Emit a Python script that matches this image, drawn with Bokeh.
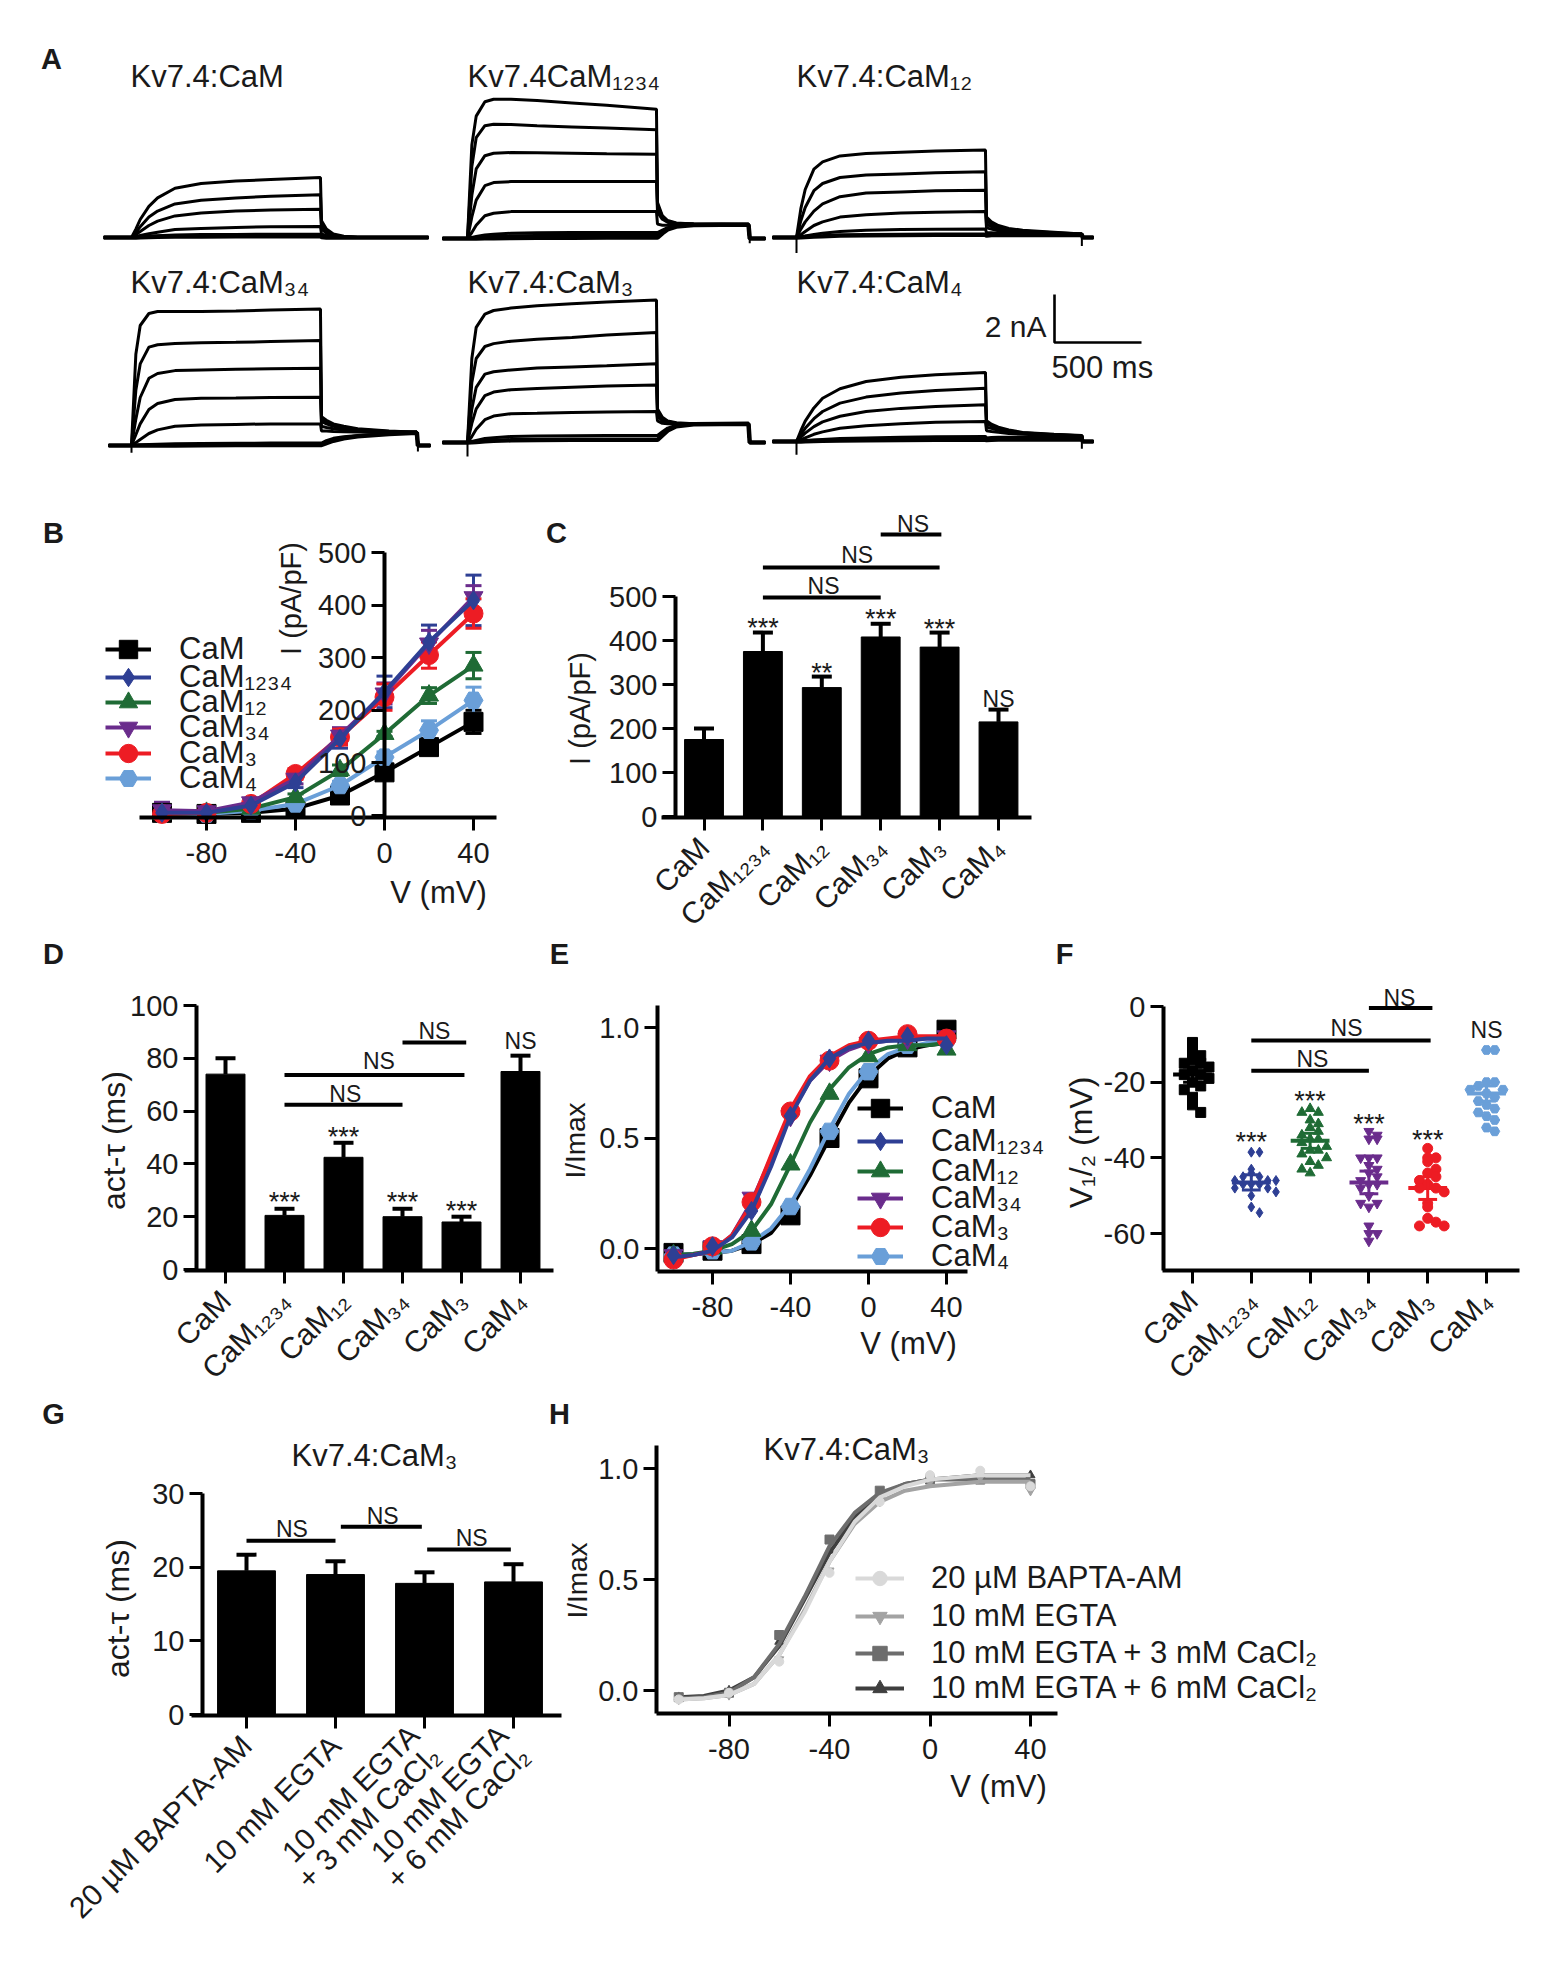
from bokeh.embed import file_html
from bokeh.layouts import column, row
from bokeh.models import FixedTicker, Label, Legend, LegendItem, Range1d
from bokeh.plotting import figure
from bokeh.resources import INLINE

FONT = "Liberation Sans"

# panel A, current traces (ms, nA)
cam_t = [-160, 0, 25, 50, 100, 150, 250, 400, 600, 800, 1086, 1092, 1120, 1160, 1220, 1300, 1707]
cam_i = [
    [0, 0, .35, .75, 1.3, 1.65, 2.05, 2.25, 2.35, 2.42, 2.5, .7, .35, .15, .05, 0, 0],
    [0, 0, .2, .45, .85, 1.1, 1.4, 1.55, 1.65, 1.72, 1.78, .5, .25, .1, .03, 0, 0],
    [0, 0, .12, .25, .5, .68, .9, 1.02, 1.1, 1.15, 1.18, .35, .18, .07, .02, 0, 0],
    [0, 0, .04, .08, .16, .22, .33, .38, .42, .45, .46, .15, .08, .03, 0, 0, 0],
    [0, 0, .01, .02, .05, .07, .1, .12, .13, .14, .14, .05, .02, 0, 0, 0, 0],
    [0, 0, 0, .01, .02, .03, .04, .04, .05, .05, .05, .02, 0, 0, 0, 0, 0],
]
cam1234_t = [-144, 0, 25, 50, 100, 150, 250, 400, 600, 800, 1086, 1092, 1120, 1150, 1200, 1300, 1615, 1622, 1712]
cam1234_i = [
    [0, 0, 3.9, 5.1, 5.7, 5.8, 5.8, 5.75, 5.65, 5.55, 5.39, 1.5, .95, .75, .65, .6, .58, 0, 0],
    [0, 0, 3.0, 4.2, 4.7, 4.76, 4.75, 4.7, 4.65, 4.6, 4.53, 1.4, .9, .72, .63, .6, .58, 0, 0],
    [0, 0, 1.8, 2.9, 3.45, 3.55, 3.58, 3.57, 3.55, 3.53, 3.51, 1.3, .85, .7, .62, .6, .58, 0, 0],
    [0, 0, .9, 1.6, 2.2, 2.33, 2.37, 2.37, 2.37, 2.37, 2.37, 1.1, .8, .68, .6, .58, .58, 0, 0],
    [0, 0, .25, .55, .95, 1.05, 1.12, 1.12, 1.12, 1.12, 1.12, .6, .55, .55, .56, .58, .58, 0, 0],
    [0, 0, .04, .08, .15, .18, .22, .24, .25, .25, .25, .25, .35, .45, .53, .57, .58, 0, 0],
    [0, 0, .01, .03, .06, .08, .11, .13, .14, .14, .14, .14, .3, .42, .52, .57, .58, 0, 0],
    [0, 0, 0, 0, .01, .01, .02, .03, .03, .04, .04, .04, .22, .38, .5, .56, .58, 0, 0],
]
cam12_t = [-138, 0, 25, 50, 100, 150, 250, 400, 600, 800, 1086, 1092, 1120, 1160, 1220, 1300, 1480, 1640, 1646, 1707]
cam12_i = [
    [0, 0, 1.2, 2.0, 2.85, 3.15, 3.4, 3.5, 3.55, 3.6, 3.65, .85, .65, .5, .38, .3, .22, .15, 0, 0],
    [0, 0, .7, 1.25, 1.95, 2.25, 2.5, 2.6, 2.65, 2.7, 2.74, .7, .55, .42, .33, .27, .2, .15, 0, 0],
    [0, 0, .35, .65, 1.1, 1.4, 1.7, 1.85, 1.9, 1.95, 1.97, .55, .45, .35, .28, .24, .18, .15, 0, 0],
    [0, 0, .12, .25, .5, .65, .85, .95, 1.02, 1.05, 1.08, .4, .35, .28, .24, .2, .16, .14, 0, 0],
    [0, 0, .03, .06, .13, .18, .25, .3, .33, .34, .35, .2, .2, .18, .16, .15, .13, .12, 0, 0],
    [0, 0, .01, .02, .04, .05, .08, .09, .1, .11, .11, .08, .1, .1, .1, .1, .1, .1, 0, 0],
]
cam34_t = [-132, 0, 25, 50, 100, 150, 250, 400, 600, 800, 1086, 1092, 1120, 1160, 1220, 1300, 1480, 1640, 1646, 1718]
cam34_i = [
    [0, 0, 3.8, 5.0, 5.5, 5.58, 5.58, 5.58, 5.6, 5.65, 5.69, 1.2, 1.05, .9, .8, .7, .6, .55, 0, 0],
    [0, 0, 2.3, 3.4, 4.1, 4.2, 4.25, 4.28, 4.3, 4.33, 4.37, 1.1, .95, .85, .75, .67, .58, .55, 0, 0],
    [0, 0, 1.1, 2.0, 2.8, 3.0, 3.12, 3.15, 3.18, 3.2, 3.22, 1.0, .9, .8, .72, .65, .57, .55, 0, 0],
    [0, 0, .45, .9, 1.5, 1.75, 1.92, 1.97, 1.98, 2.0, 2.01, .8, .75, .7, .65, .6, .56, .55, 0, 0],
    [0, 0, .12, .25, .5, .65, .8, .85, .88, .9, .9, .6, .6, .58, .57, .56, .55, .55, 0, 0],
    [0, 0, .01, .02, .04, .05, .07, .08, .09, .1, .1, .1, .2, .3, .37, .42, .5, .55, 0, 0],
    [0, 0, 0, 0, 0, 0, 0, .01, .02, .02, .02, .02, .1, .2, .3, .38, .48, .53, 0, 0],
]
cam3_t = [-144, 0, 25, 50, 100, 150, 250, 400, 600, 800, 1086, 1092, 1120, 1150, 1200, 1300, 1615, 1622, 1712]
cam3_i = [
    [0, 0, 3.5, 4.8, 5.35, 5.5, 5.6, 5.7, 5.78, 5.85, 5.94, 1.4, 1.05, .9, .82, .78, .78, 0, 0],
    [0, 0, 2.5, 3.5, 4.0, 4.12, 4.22, 4.3, 4.38, 4.48, 4.58, 1.3, 1.0, .88, .8, .78, .78, 0, 0],
    [0, 0, 1.4, 2.3, 2.85, 2.95, 3.02, 3.1, 3.15, 3.2, 3.28, 1.2, .95, .85, .8, .78, .78, 0, 0],
    [0, 0, .8, 1.4, 1.95, 2.1, 2.2, 2.25, 2.3, 2.35, 2.4, 1.1, .9, .82, .78, .78, .78, 0, 0],
    [0, 0, .25, .55, .95, 1.1, 1.2, 1.22, 1.25, 1.27, 1.29, .9, .8, .78, .77, .78, .78, 0, 0],
    [0, 0, .04, .09, .17, .2, .25, .27, .28, .29, .29, .29, .45, .6, .72, .77, .78, 0, 0],
    [0, 0, .01, .02, .05, .07, .09, .1, .11, .11, .11, .11, .3, .5, .68, .76, .78, 0, 0],
]
cam4_t = [-138, 0, 25, 50, 100, 150, 250, 400, 600, 800, 1086, 1092, 1120, 1160, 1220, 1300, 1480, 1640, 1646, 1707]
cam4_i = [
    [0, 0, .45, .85, 1.4, 1.8, 2.2, 2.5, 2.68, 2.78, 2.88, .87, .72, .6, .48, .38, .3, .25, 0, 0],
    [0, 0, .3, .55, .95, 1.25, 1.6, 1.85, 2.02, 2.13, 2.22, .75, .65, .55, .45, .36, .28, .24, 0, 0],
    [0, 0, .18, .35, .62, .82, 1.05, 1.25, 1.38, 1.46, 1.53, .6, .55, .47, .4, .33, .27, .24, 0, 0],
    [0, 0, .07, .15, .3, .4, .55, .66, .74, .8, .83, .45, .42, .38, .33, .3, .25, .23, 0, 0],
    [0, 0, .02, .03, .06, .08, .12, .15, .18, .2, .21, .15, .17, .18, .18, .18, .18, .17, 0, 0],
    [0, 0, 0, .01, .02, .03, .04, .05, .06, .07, .07, .06, .07, .08, .08, .08, .08, .08, 0, 0],
]
# capacitive spikes below baseline (ms, nA)
spike_1234 = ([1622], [-.2])
spike_12 = ([0, 1640], [-.65, -.35])
spike_34 = ([0, 1646], [-.3, -.25])
spike_3 = ([0], [-.58])
spike_4 = ([0, 1640], [-.55, -.3])
scale_ms = 500
scale_na = 2

# shared
cats = ["CaM", "CaM₁₂₃₄", "CaM₁₂", "CaM₃₄", "CaM₃", "CaM₄"]
colors = ["#000000", "#2e3f94", "#1f6b35", "#6a2c8c", "#ed1c24", "#6a9fd8"]
markers = ["square", "diamond", "triangle", "inverted_triangle", "circle", "hex"]
volts = [-100, -80, -60, -40, -20, 0, 20, 40]
volts_fit = [-100, -90, -80, -70, -60, -50, -40, -30, -20, -10, 0, 10, 20, 30, 40]
v_ticks = [-80, -40, 0, 40]
v_labels = ["-80", "-40", "0", "40"]

# panel B, I-V
b_vals = [
    [5, 3, 5, 13, 38, 82, 130, 178],
    [5, 5, 19, 63, 146, 235, 330, 409],
    [3, 5, 13, 35, 86, 155, 228, 285],
    [10, 8, 25, 70, 152, 232, 327, 415],
    [3, 5, 22, 79, 149, 225, 305, 384],
    [3, 3, 9, 22, 57, 111, 162, 219],
]
b_errs = [
    [8, 5, 5, 6, 8, 12, 12, 22],
    [5, 5, 6, 10, 18, 30, 32, 48],
    [3, 3, 4, 6, 10, 5, 15, 25],
    [15, 5, 6, 10, 15, 20, 25, 22],
    [3, 3, 5, 10, 15, 25, 25, 28],
    [3, 3, 3, 5, 8, 10, 18, 25],
]
b_yticks = [0, 100, 200, 300, 400, 500]

# panel C
c_vals = [175, 375, 293, 408, 385, 215]
c_tops = [200, 418, 318, 438, 418, 243]
c_yticks = [0, 100, 200, 300, 400, 500]
c_stars = [(1, 445, "***"), (2, 342, "**"), (3, 465, "***"), (4, 441, "***")]
c_ns_bars = [(1, 3, 498), (1, 4, 566), (3, 4.03, 641)]
c_ns_text = [(2.03, 524), (2.6, 594), (3.55, 664), (5, 267)]

# panel D
d_vals = [74, 20.5, 42.5, 20, 18, 75]
d_tops = [80, 23, 48, 23, 20, 81]
d_yticks = [0, 20, 40, 60, 80, 100]
d_stars = [(1, 28.4, "***"), (2, 53, "***"), (3, 28.4, "***"), (4, 25, "***")]
d_ns_bars = [(1, 3, 62.4), (1, 4.05, 73.7), (3, 4.08, 86)]
d_ns_text = [(2.03, 66.5), (2.6, 78.8), (3.54, 90.5), (5, 86.7)]

# panel E, normalised points and fits
e_vals = [
    [-.02, -.01, .02, .15, .50, .77, .91, .99],
    [-.03, .01, .17, .60, .86, .94, .96, .92],
    [-.03, 0, .08, .38, .70, .87, .92, .90],
    [-.03, .01, .23, .60, .85, .93, .95, .96],
    [-.05, .01, .21, .62, .85, .94, .97, .95],
    [-.03, -.01, .03, .19, .53, .80, .92, .94],
]
e_fits = [
    [-.03, -.025, -.02, -.01, .02, .07, .18, .33, .50, .66, .78, .86, .90, .92, .93],
    [-.04, -.03, -.01, .05, .17, .37, .60, .76, .86, .91, .93, .94, .94, .95, .95],
    [-.03, -.025, -.01, .02, .08, .20, .38, .57, .72, .82, .88, .91, .92, .92, .93],
    [-.04, -.03, -.01, .06, .21, .41, .61, .76, .85, .90, .93, .94, .95, .95, .95],
    [-.05, -.03, -.01, .06, .20, .42, .63, .78, .87, .92, .94, .95, .96, .96, .96],
    [-.03, -.025, -.02, -.01, .03, .09, .20, .36, .54, .70, .81, .88, .91, .93, .94],
]
norm_ticks = [0, .5, 1]
norm_labels = ["0.0", "0.5", "1.0"]

# panel F, V1/2 scatter
f_vals = [
    [-9.5, -12, -13, -14, -15, -15, -16, -17, -18, -18, -19, -20, -21, -22, -24, -26, -28],
    [-38.5, -38.5, -43, -44, -45, -45, -46, -46, -46, -47, -47, -47, -48, -48, -49, -50, -53, -54.5],
    [-27, -28, -28, -30, -31, -32, -33, -34, -35, -35, -36, -37, -38, -38, -39, -40, -41, -42, -43, -44],
    [-33, -34, -35, -35, -40, -40, -40, -42, -43, -44, -45, -46, -47, -47, -48, -50, -52, -52, -53, -58, -60, -60, -62],
    [-37.5, -40, -40, -41, -43, -44, -45, -46, -47, -48, -48, -49, -52, -53, -56, -57, -58, -58],
    [-11.5, -11.5, -20, -20, -21, -22, -22, -23, -24, -25, -26, -27, -28, -29, -30, -32, -33],
]
f_means = [-18, -46.5, -35.5, -46.5, -48, -23]
f_sems = [2, 2, 2, 3, 3, 2]
f_yticks = [-60, -40, -20, 0]
f_stars = [(1, -34, "***"), (2, -23, "***"), (3, -29.2, "***"), (4, -33.5, "***")]
f_ns_bars = [(1, 3, -17), (1, 4.05, -9), (3, 4.08, -.4)]
f_ns_text = [(2.04, -14), (2.62, -5.7), (3.52, 2.3), (5, -6.1)]

# panel G
g_cats = ["20 µM BAPTA-AM", "10 mM EGTA", "10 mM EGTA\n+ 3 mM CaCl₂", "10 mM EGTA\n+ 6 mM CaCl₂"]
g_vals = [19.5, 19, 17.8, 18]
g_tops = [21.7, 20.8, 19.3, 20.4]
g_yticks = [0, 10, 20, 30]
g_ns_bars = [(0, 1, 23.6), (1.06, 1.97, 25.5), (2.03, 2.97, 22.4)]
g_ns_text = [(.51, 25.2), (1.53, 27), (2.53, 24)]

# panel H
h_names = ["20 µM BAPTA-AM", "10 mM EGTA", "10 mM EGTA + 3 mM CaCl₂", "10 mM EGTA + 6 mM CaCl₂"]
h_colors = ["#d9d9d9", "#a3a3a3", "#6d6d6d", "#3f3f3f"]
h_markers = ["circle", "inverted_triangle", "square", "triangle"]
h_vals = [
    [-.04, -.01, .13, .53, .85, .97, .99, .92],
    [-.04, -.02, .14, .54, .85, .94, .96, .90],
    [-.03, -.01, .25, .68, .90, .95, .95, .93],
    [-.03, 0, .22, .63, .88, .95, .96, .97],
]
h_fits = [
    [-.04, -.035, -.02, .03, .16, .35, .58, .76, .87, .92, .95, .96, .97, .97, .97],
    [-.04, -.035, -.02, .03, .16, .36, .58, .75, .85, .90, .92, .93, .94, .94, .94],
    [-.035, -.03, -.01, .06, .21, .42, .65, .80, .89, .93, .95, .95, .95, .95, .95],
    [-.03, -.025, 0, .06, .20, .41, .62, .78, .88, .93, .95, .96, .97, .97, .97],
]


class Panel:
    # box is in page pixels (left, top, right, bottom); the frame fills it, so that
    # nothing of a panel is clipped, and the axes sit at fixed locations inside it.
    # nudge moves the whole content of the panel to the left by that many pixels.
    def __init__(self, box, xcal, ycal, shift=0, nudge=0):
        self.box = box
        self.nudge = nudge
        self.kx = (xcal[2] - xcal[0]) / (xcal[3] - xcal[1])
        self.ky = (ycal[2] - ycal[0]) / (ycal[3] - ycal[1])
        self.xcal = xcal
        self.ycal = ycal
        self.fig = figure(
            width=box[2] - box[0],
            height=box[3] - box[1],
            x_range=Range1d(self.to_x(box[0] + nudge), self.to_x(box[2] + nudge)),
            y_range=Range1d(self.to_y(box[3]), self.to_y(box[1])),
            min_border=0,
            toolbar_location=None,
            output_backend="svg",
            background_fill_color=None,
            border_fill_color=None,
            outline_line_color=None,
            margin=(0, 0, 0, shift),
        )
        self.fig.grid.visible = False

    def to_x(self, px):
        return self.xcal[0] + (px - self.xcal[1]) * self.kx

    def to_y(self, py):
        return self.ycal[0] + (py - self.ycal[1]) * self.ky

    def note(self, px, py, text, size=31, align="center", angle=0, style="normal"):
        self.text(self.to_x(px), self.to_y(py), text, size, align, angle, style)

    def text(self, x, y, text, size=31, align="center", angle=0, style="normal"):
        self.fig.add_layout(Label(
            x=x, y=y, text=text, text_font=FONT, text_font_size=f"{size}px",
            text_font_style=style, text_align=align, text_baseline="middle",
            angle=angle, angle_units="deg", text_color="#1a1a1a",
        ))

    def axes(self, rect, xticks, xlabels, yticks, ylabels, y_at, y_top=None, rotate=False):
        # rect: extent of the axis lines in page pixels (left, right, bottom)
        p = self.fig
        left, right, bottom = rect
        p.xaxis.fixed_location = self.to_y(bottom)
        p.xaxis.bounds = (self.to_x(left), self.to_x(right))
        p.yaxis.fixed_location = self.to_x(y_at)
        top = max(yticks) if y_top is None else self.to_y(y_top)
        p.yaxis.bounds = (self.to_y(bottom), top)
        p.xaxis.ticker = FixedTicker(ticks=list(xticks))
        p.xaxis.major_label_overrides = dict(zip(xticks, xlabels))
        p.yaxis.ticker = FixedTicker(ticks=list(yticks))
        p.yaxis.major_label_overrides = dict(zip(yticks, ylabels))
        for ax in (p.xaxis, p.yaxis):
            ax.axis_line_width = 4
            ax.major_tick_line_width = 3
            ax.major_tick_in = 0
            ax.major_tick_out = 13
            ax.minor_tick_line_color = None
            ax.major_label_text_font = FONT
            ax.major_label_text_font_size = "29px"
            ax.major_label_text_color = "#1a1a1a"
            ax.major_label_standoff = 5
        p.yaxis.major_label_orientation = "horizontal"
        p.xaxis.major_label_standoff = 12
        if rotate:
            p.xaxis.major_label_orientation = 0.785
            p.xaxis.major_label_standoff = 12
            p.xaxis.major_label_text_font_size = "30px"
            p.xaxis.major_label_text_line_height = 0.9

    def key(self, name, renderers, px, py, height=46, standoff=28, glyph=46):
        # one legend per row, so that the rows can be closer than the text height
        self.fig.add_layout(Legend(
            items=[LegendItem(label=name, renderers=renderers)],
            location=(px - self.box[0] - self.nudge, self.box[3] - py - height / 2),
            orientation="vertical",
            border_line_color=None,
            background_fill_alpha=0,
            label_text_font=FONT,
            label_text_font_size="31px",
            label_text_color="#1a1a1a",
            glyph_width=glyph,
            glyph_height=height,
            label_standoff=standoff,
            label_height=18,
            spacing=0,
            margin=0,
            padding=0,
        ))


def traces(box, x0, y0, t, currents, spike=None, nudge=0):
    pn = Panel(box, (0, x0, 1000, x0 + 174), (0, y0, 1, y0 - 24), nudge=nudge)
    pn.fig.xaxis.visible = False
    pn.fig.yaxis.visible = False
    for k, cur in enumerate(currents):
        # the trace next to the baseline is the noisy, thick one
        pn.fig.line(t, cur, line_color="#000000", line_width=4.5 if k == len(currents) - 1 else 3)
    if spike:
        pn.fig.segment(spike[0], [0] * len(spike[0]), spike[0], spike[1], line_color="#000000", line_width=2)
    return pn


def bars(pn, vals, tops, width, cap):
    xs = list(range(len(vals)))
    pn.fig.vbar(x=xs, top=vals, width=width, bottom=0, fill_color="#000000", line_color="#000000")
    pn.fig.segment(xs, vals, xs, tops, line_color="#000000", line_width=4)
    pn.fig.scatter(xs, tops, marker="dash", size=cap, line_color="#000000", line_width=4)


def brackets(pn, spans, texts, stars=()):
    for x0, x1, y in spans:
        pn.fig.line([x0, x1], [y, y], line_color="#000000", line_width=4)
    for x, y in texts:
        pn.text(x, y, "NS", 23)
    for x, y, s in stars:
        # an asterisk sits high in its line: move the text down to centre it
        pn.text(x, y + 7 * pn.ky, s, 27)


def swarm(values, step=0.14, bin_size=3):
    seen = {}
    out = []
    for v in values:
        k = round(v / bin_size)
        n = seen.get(k, 0)
        seen[k] = n + 1
        out.append(((n + 1) // 2) * step * (1 if n % 2 else -1))
    return out


# row A1
a1 = traces((0, 0, 440, 256), 133, 237, cam_t, cam_i, nudge=2)
a1.note(132, 76, "Kv7.4:CaM", 31, "left")
a1.note(53, 58, "A", 29, style="bold")
a2 = traces((440, 0, 770, 256), 470, 238, cam1234_t, cam1234_i, spike_1234, nudge=3)
a2.note(470, 76, "Kv7.4CaM₁₂₃₄", 31, "left")
a3 = traces((770, 0, 1554, 256), 802, 237, cam12_t, cam12_i, spike_12, nudge=6)
a3.note(802, 76, "Kv7.4:CaM₁₂", 31, "left")

# row A2
a4 = traces((0, 256, 440, 470), 133, 445, cam34_t, cam34_i, spike_34, nudge=2)
a4.note(132, 282, "Kv7.4:CaM₃₄", 31, "left")
a5 = traces((440, 256, 770, 470), 470, 442, cam3_t, cam3_i, spike_3, nudge=3)
a5.note(470, 282, "Kv7.4:CaM₃", 31, "left")
a6 = traces((770, 256, 1554, 470), 802, 441, cam4_t, cam4_i, spike_4, nudge=6)
a6.note(802, 282, "Kv7.4:CaM₄", 31, "left")
bar_t = a6.to_x(1060)
bar_i = a6.to_y(342)
a6.fig.line([bar_t, bar_t, bar_t + scale_ms], [bar_i + scale_na, bar_i, bar_i], line_color="#000000", line_width=2.6)
a6.note(1052, 326, "2 nA", 30, "right")
a6.note(1057, 367, "500 ms", 31, "left")

# panel B
pb = Panel((0, 470, 540, 932), (0, 386, -40, 297), (0, 815, 500, 552), nudge=2)
pb.axes((141, 498, 817), v_ticks, v_labels, b_yticks, [str(v) for v in b_yticks], 386)
for i, name in enumerate(cats):
    low = [v - e for v, e in zip(b_vals[i], b_errs[i])]
    high = [v + e for v, e in zip(b_vals[i], b_errs[i])]
    pb.fig.segment(volts, low, volts, high, line_color=colors[i], line_width=3)
    pb.fig.scatter(volts, high, marker="dash", size=16, line_color=colors[i], line_width=3)
    pb.fig.scatter(volts, low, marker="dash", size=16, line_color=colors[i], line_width=3)
b_keys = {}
for i in [0, 5, 2, 4, 3, 1]:
    ln = pb.fig.line(volts, b_vals[i], line_color=colors[i], line_width=4)
    mk = pb.fig.scatter(volts, b_vals[i], marker=markers[i], size=19, fill_color=colors[i], line_color=colors[i])
    b_keys[i] = [ln, mk]
for i, py in enumerate([649, 677, 702, 727, 753, 778]):
    pb.key(cats[i], b_keys[i], 107, py)
pb.note(292, 598, "I (pA/pF)", 29, angle=90)
pb.note(440, 892, "V (mV)", 31)
pb.note(55, 532, "B", 29, style="bold")

# panel C
pc = Panel((540, 470, 1554, 932), (0, 707.5, 5, 1002), (0, 816, 500, 596), nudge=4)
pc.axes((665, 1035, 817), range(6), cats, c_yticks, [str(v) for v in c_yticks], 679, rotate=True)
bars(pc, c_vals, c_tops, .66, 20)
brackets(pc, c_ns_bars, c_ns_text, c_stars)
pc.note(583, 708, "I (pA/pF)", 29, angle=90)
pc.note(560, 532, "C", 29, style="bold")

# panel D
pd_ = Panel((0, 932, 560, 1392), (0, 229, 5, 524), (0, 1269, 100, 1005), nudge=4)
pd_.axes((188, 557, 1270), range(6), cats, d_yticks, [str(v) for v in d_yticks], 200, rotate=True)
bars(pd_, d_vals, d_tops, .66, 20)
brackets(pd_, d_ns_bars, d_ns_text, d_stars)
pd_.note(117, 1140, "act-τ (ms)", 32, angle=90)
pd_.note(57, 953, "D", 29, style="bold")

# panel E
pe = Panel((545, 932, 1056, 1392), (0, 873, 40, 951), (0, 1248, 1, 1027), shift=-15, nudge=5)
pe.axes((662, 972, 1271), v_ticks, v_labels, norm_ticks, norm_labels, 662, y_top=1005)
e_keys = {}
for i in [0, 5, 2, 3, 4, 1]:
    ln = pe.fig.line(volts_fit, e_fits[i], line_color=colors[i], line_width=4)
    mk = pe.fig.scatter(volts, e_vals[i], marker=markers[i], size=19, fill_color=colors[i], line_color=colors[i])
    e_keys[i] = [ln, mk]
for i, py in enumerate([1108, 1141, 1171, 1198, 1227, 1256]):
    pe.key(cats[i], e_keys[i], 862, py)
pe.note(580, 1140, "I/Imax", 28, angle=90)
pe.note(913, 1343, "V (mV)", 31)
pe.note(564, 953, "E", 29, style="bold")

# panel F
pf = Panel((1056, 932, 1554, 1392), (0, 1198, 5, 1492), (0, 1006, -60, 1233), nudge=6)
pf.axes((1168, 1525, 1270), range(6), cats, f_yticks, [str(v) for v in f_yticks], 1169, rotate=True)
for i, vals in enumerate(f_vals):
    xs = [i + o for o in swarm(vals)]
    pf.fig.scatter(xs, vals, marker=markers[i], size=10, fill_color=colors[i], line_color=colors[i])
    m, s = f_means[i], f_sems[i]
    pf.fig.line([i - .33, i + .33], [m, m], line_color=colors[i], line_width=4)
    pf.fig.line([i, i], [m - s, m + s], line_color=colors[i], line_width=3)
    pf.fig.line([i - .16, i + .16], [m - s, m - s], line_color=colors[i], line_width=3)
    pf.fig.line([i - .16, i + .16], [m + s, m + s], line_color=colors[i], line_width=3)
brackets(pf, f_ns_bars, f_ns_text, f_stars)
pf.note(1086, 1142, "V₁/₂ (mV)", 32, angle=90)
pf.note(1070, 953, "F", 29, style="bold")

# panel G
pg = Panel((0, 1392, 566, 1963), (0, 248, 3, 515), (0, 1714, 30, 1493), nudge=2)
pg.axes((193, 563, 1715), range(4), g_cats, g_yticks, [str(v) for v in g_yticks], 204, rotate=True)
bars(pg, g_vals, g_tops, .65, 20)
brackets(pg, g_ns_bars, g_ns_text)
pg.note(119, 1608, "act-τ (ms)", 32, angle=90)
pg.note(376, 1455, "Kv7.4:CaM₃", 31)
pg.note(55, 1413, "G", 29, style="bold")

# panel H
ph = Panel((545, 1392, 1554, 1963), (0, 934.5, 40, 1035), (0, 1690, 1, 1468), shift=-21, nudge=5)
ph.axes((661, 1062, 1713), v_ticks, v_labels, norm_ticks, norm_labels, 661, y_top=1445)
h_keys = {}
for i in [3, 2, 1, 0]:
    ln = ph.fig.line(volts_fit, h_fits[i], line_color=h_colors[i], line_width=4)
    mk = ph.fig.scatter(volts, h_vals[i], marker=h_markers[i], size=9, fill_color=h_colors[i], line_color=h_colors[i])
    h_keys[i] = [ln, mk]
for i, py in enumerate([1578, 1616, 1653, 1688]):
    ph.key(h_names[i], h_keys[i], 860, py, height=36, standoff=27, glyph=49)
ph.note(582, 1580, "I/Imax", 28, angle=90)
ph.note(1003, 1786, "V (mV)", 31)
ph.note(851, 1449, "Kv7.4:CaM₃", 31)
ph.note(564, 1413, "H", 29, style="bold")

page = column(
    row(a1.fig, a2.fig, a3.fig),
    row(a4.fig, a5.fig, a6.fig),
    row(pb.fig, pc.fig),
    row(pd_.fig, pe.fig, pf.fig),
    row(pg.fig, ph.fig),
)
open("out.html", "w").write(file_html(page, INLINE))
